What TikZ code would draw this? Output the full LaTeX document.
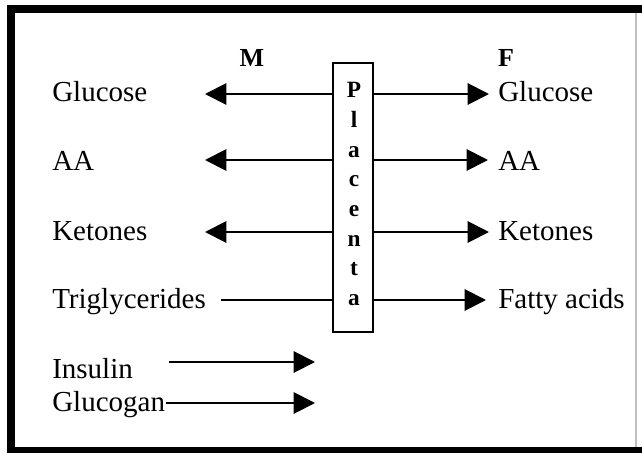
\documentclass[tikz,border=0pt]{standalone}
\usepackage{fontspec}
\setmainfont{Liberation Serif}
\usetikzlibrary{arrows.meta}
\begin{document}
\begin{tikzpicture}[x=0.75pt,y=-0.75pt,
  lbl/.style={anchor=base west,inner sep=0pt,font=\fontsize{21.75pt}{26pt}\selectfont},
  hdr/.style={anchor=base,inner sep=0pt,font=\fontsize{19.5pt}{22pt}\selectfont\bfseries},
  ltr/.style={anchor=base,inner sep=0pt,font=\fontsize{17.5pt}{20pt}\selectfont\bfseries},
  arr/.style={line width=1.5pt,-{Triangle[length=16pt,width=16pt]}},
  plain/.style={line width=1.5pt},
  frame/.style={fill=black,draw=none}]
\useasboundingbox (0,0) rectangle (642,453);
% frame
\fill[white] (0,0) rectangle (642,453);
\path[frame] (7,5) rectangle (642,13);
\path[frame] (7,5) rectangle (15,453);
\path[frame] (7,447) rectangle (642,453);
\draw[black!25,line width=1pt] (636,13) -- (636,447);
% placenta box
\node[draw,line width=1.5pt,minimum width=30pt,minimum height=201.75pt,inner sep=0pt] (box) at (353,197.5) {};
\foreach \c [count=\i from 0] in {P,l,a,c,e,n,t,a}
  \node[ltr] (p\i) at (354,{98+29.6*\i}) {\c};
% headers
\node[hdr] (M) at (252,66) {M};
\node[hdr] (F) at (506,66) {F};
% left labels
\node[lbl] (gl) at (52,101) {Glucose};
\node[lbl] (al) at (52,170) {AA};
\node[lbl] (kl) at (52,240) {Ketones};
\node[lbl] (tl) at (52,308) {Triglycerides};
\node[lbl] (ins) at (52,378) {Insulin};
\node[lbl] (glu) at (52,411) {Glucogan};
% right labels
\node[lbl] (gr) at (498,101) {Glucose};
\node[lbl] (ar) at (498,170) {AA};
\node[lbl] (kr) at (498,240) {Ketones};
\node[lbl] (fr) at (498,308) {Fatty acids};
% coordinates
\coordinate (lt1) at (205,94);
\coordinate (lt2) at (205,160);
\coordinate (lt3) at (205,232);
\coordinate (ts) at (221,300);
\coordinate (rt1) at (489,94);
\coordinate (rt2) at (488,160);
\coordinate (rt3) at (489,232);
\coordinate (rt4) at (486,300);
\coordinate (is) at (169,362);
\coordinate (it) at (315,362);
\coordinate (gs) at (166,403);
\coordinate (gt) at (315,403);
% arrows
\draw[arr] (box.west |- lt1) -- (lt1);
\draw[arr] (box.west |- lt2) -- (lt2);
\draw[arr] (box.west |- lt3) -- (lt3);
\draw[plain] (ts) -- (box.west |- ts);
\draw[arr] (box.east |- rt1) -- (rt1);
\draw[arr] (box.east |- rt2) -- (rt2);
\draw[arr] (box.east |- rt3) -- (rt3);
\draw[arr] (box.east |- rt4) -- (rt4);
\draw[arr] (is) -- (it);
\draw[arr] (gs) -- (gt);
\end{tikzpicture}
\end{document}
